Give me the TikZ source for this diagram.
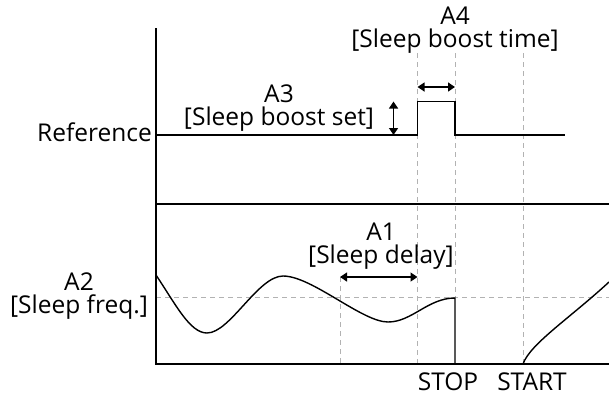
\documentclass[tikz,border=0pt]{standalone}
\usepackage{fontspec}
\setmainfont{Open Sans}
\usetikzlibrary{arrows.meta}
\begin{document}
\begin{tikzpicture}[x=1pt,y=-1pt,
  axis/.style={line width=2pt},
  sig/.style={line width=1.4pt},
  guide/.style={gray!60,line width=0.9pt,dash pattern=on 5pt off 4pt},
  dim/.style={line width=1.3pt,{Triangle[length=7pt,width=9pt]}-{Triangle[length=7pt,width=9pt]}},
  lbl/.style={font=\fontsize{24.5}{23}\selectfont,inner sep=0pt,align=center,anchor=base}]
\useasboundingbox (0,0) rectangle (609,397);
% guides
\coordinate (g1t) at (417.5,53); \coordinate (g1b) at (417.5,364);
\coordinate (g2t) at (455,53); \coordinate (g2b) at (455,298);
\coordinate (g3t) at (523,53); \coordinate (g3b) at (523,364);
\coordinate (g0t) at (340,277); \coordinate (g0b) at (340,364);
\coordinate (hl) at (156,297); \coordinate (hr) at (609,297);
\draw[guide] (g1t) -- (g1b);
\draw[guide] (g2t) -- (g2b);
\draw[guide] (g3t) -- (g3b);
\draw[guide] (g0t) -- (g0b);
\draw[guide] (hl) -- (hr);
% axes
\coordinate (ta) at (156,28); \coordinate (ba) at (156,364);
\coordinate (mr) at (609,204); \coordinate (ml) at (156,204);
\coordinate (br) at (609,364);
\draw[axis] (ta) -- (ba) -- (br);
\draw[axis] (ml) -- (mr);
% reference signal
\coordinate (r0) at (156,135); \coordinate (r1) at (417.5,135);
\coordinate (r2) at (417.5,101.5); \coordinate (r3) at (455,101.5);
\coordinate (r4) at (455,135); \coordinate (r5) at (565,135);
\draw[sig] (r0) -- (r1) -- (r2) -- (r3) -- (r4) -- (r5);
% frequency signal
\coordinate (f0) at (156,275); \coordinate (f1) at (207,333);
\coordinate (f2) at (283,276); \coordinate (f3) at (388,322);
\coordinate (f4) at (455,298); \coordinate (f5) at (455,364);
\draw[sig] (f0) .. controls (176,305) and (190,333) .. (f1)
  .. controls (230,333) and (258,276) .. (f2)
  .. controls (312,276) and (362,322) .. (f3)
  .. controls (412,322) and (428,298) .. (f4) -- (f5);
\coordinate (s0) at (523,364); \coordinate (s1) at (609,282);
\draw[sig] (s0) .. controls (530,344) and (570,318) .. (s1);
% dimension arrows
\coordinate (a3t) at (393.5,101.5); \coordinate (a3b) at (393.5,135);
\draw[dim] (a3t) -- (a3b);
\coordinate (a4l) at (417.5,87); \coordinate (a4r) at (455,87);
\draw[dim] (a4l) -- (a4r);
\coordinate (a1l) at (340,277); \coordinate (a1r) at (417.5,277);
\draw[dim] (a1l) -- (a1r);
% labels
\node[lbl,anchor=base east] (ref) at (152,141) {Reference};
\node[lbl] (a3) at (279,125) {A3\\{[}Sleep boost set]};
\node[lbl] (a4) at (455,47) {A4\\{[}Sleep boost time]};
\node[lbl] (a1) at (381,263) {A1\\{[}Sleep delay]};
\node[lbl] (a2) at (79,313) {A2\\{[}Sleep freq.]};
\node[lbl] (stop) at (448,390) {STOP};
\node[lbl] (start) at (532,390) {START};
\end{tikzpicture}
\end{document}
